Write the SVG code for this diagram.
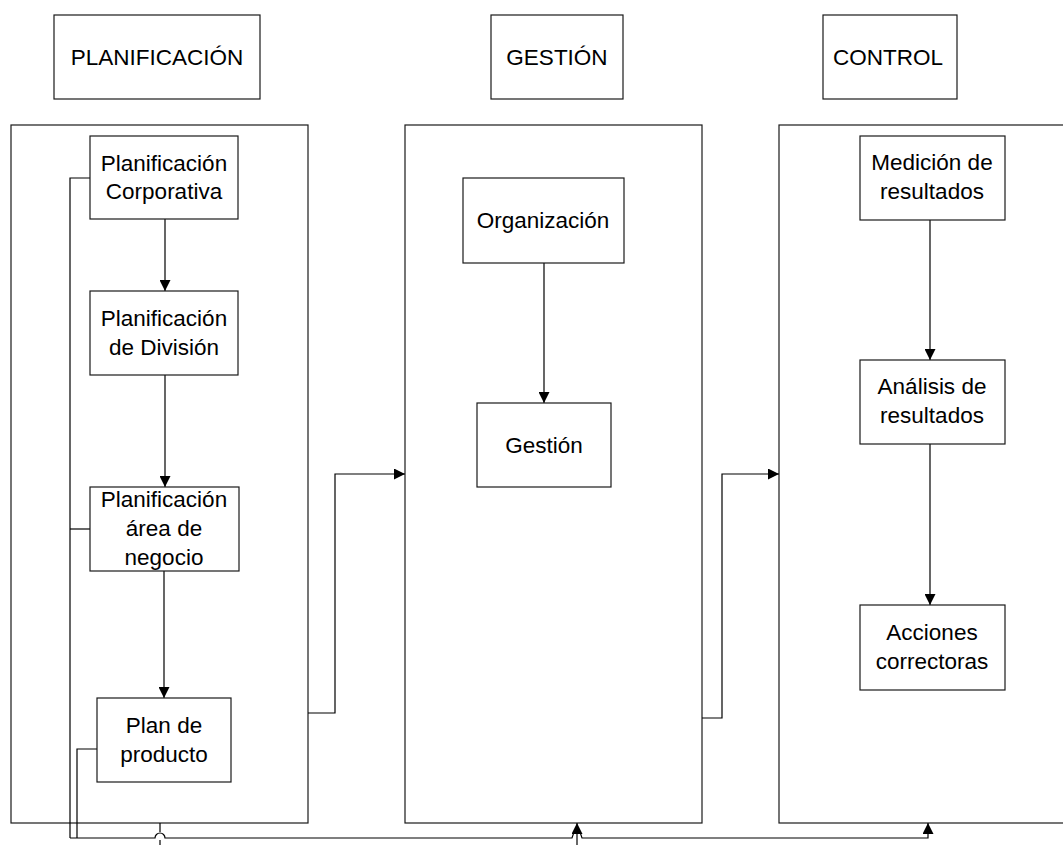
<svg xmlns="http://www.w3.org/2000/svg" width="1063" height="845" viewBox="0 0 1063 845">
  <style>
    .box { fill: #ffffff; stroke: #1a1a1a; stroke-width: 1.2; }
    .panel { fill: #ffffff; stroke: #1a1a1a; stroke-width: 1.2; }
    .lbl { font-family: "Liberation Sans", Arial, sans-serif; font-size: 22.5px; fill: #000; text-anchor: middle; }
    .wire { fill: none; stroke: #000; stroke-width: 1.2; }
  </style>
  <defs>
    <marker id="arrow" viewBox="0 0 10 10" refX="10" refY="5" markerWidth="11" markerHeight="11" markerUnits="userSpaceOnUse" orient="auto">
      <path d="M0,0 L10,5 L0,10 z" fill="#000"/>
    </marker>
  </defs>

  <rect width="1063" height="845" fill="#ffffff"/>

  <!-- column headers -->
  <g id="hdr-planificacion">
    <rect class="box" x="54" y="15" width="206" height="84"/>
    <text class="lbl" x="157" y="65">PLANIFICACIÓN</text>
  </g>
  <g id="hdr-gestion">
    <rect class="box" x="491" y="15" width="132" height="84"/>
    <text class="lbl" x="557" y="65">GESTIÓN</text>
  </g>
  <g id="hdr-control">
    <rect class="box" x="823" y="15" width="134" height="84"/>
    <text class="lbl" x="888" y="65">CONTROL</text>
  </g>

  <!-- column panels -->
  <g id="panel-planificacion"><rect class="panel" x="11" y="125" width="297" height="698"/></g>
  <g id="panel-gestion"><rect class="panel" x="405" y="125" width="297" height="698"/></g>
  <g id="panel-control"><rect class="panel" x="779" y="125" width="300" height="698"/></g>

  <!-- connectors -->
  <g id="connectors">
    <!-- planning chain -->
    <line class="wire" x1="165" y1="219" x2="165" y2="291" marker-end="url(#arrow)"/>
    <line class="wire" x1="165" y1="375" x2="165" y2="487" marker-end="url(#arrow)"/>
    <line class="wire" x1="164" y1="571" x2="164" y2="698" marker-end="url(#arrow)"/>
    <!-- management chain -->
    <line class="wire" x1="544" y1="263" x2="544" y2="403" marker-end="url(#arrow)"/>
    <!-- control chain -->
    <line class="wire" x1="930" y1="220" x2="930" y2="360" marker-end="url(#arrow)"/>
    <line class="wire" x1="930" y1="444" x2="930" y2="605" marker-end="url(#arrow)"/>
    <!-- panel to panel -->
    <path class="wire" d="M308,713 H335 V474 H405" marker-end="url(#arrow)"/>
    <path class="wire" d="M702,718 H722 V474 H779" marker-end="url(#arrow)"/>
    <!-- feedback bus -->
    <path class="wire" d="M90,178 H70 V838"/>
    <line class="wire" x1="70" y1="529" x2="90" y2="529"/>
    <path class="wire" d="M97,749 H77 V838"/>
    <path class="wire" d="M70,838 H155 A5,5 0 0 1 165,838 H572 L574,832 H580 L582,838 H928 V823" marker-end="url(#arrow)"/>
    <line class="wire" x1="160" y1="823" x2="160" y2="832"/>
    <line class="wire" x1="160" y1="840" x2="160" y2="845"/>
    <line class="wire" x1="577" y1="845" x2="577" y2="823" marker-end="url(#arrow)"/>
  </g>

  <!-- planning nodes -->
  <g id="n-corporativa">
    <rect class="box" x="90" y="136" width="148" height="83"/>
    <text class="lbl" x="164" y="171">Planificación</text>
    <text class="lbl" x="164" y="199">Corporativa</text>
  </g>
  <g id="n-division">
    <rect class="box" x="90" y="291" width="148" height="84"/>
    <text class="lbl" x="164" y="326">Planificación</text>
    <text class="lbl" x="164" y="355">de División</text>
  </g>
  <g id="n-area">
    <rect class="box" x="90" y="487" width="149" height="84"/>
    <text class="lbl" x="164" y="507">Planificación</text>
    <text class="lbl" x="164" y="536">área de</text>
    <text class="lbl" x="164" y="565">negocio</text>
  </g>
  <g id="n-producto">
    <rect class="box" x="97" y="698" width="134" height="84"/>
    <text class="lbl" x="164" y="733">Plan de</text>
    <text class="lbl" x="164" y="762">producto</text>
  </g>

  <!-- management nodes -->
  <g id="n-organizacion">
    <rect class="box" x="463" y="178" width="161" height="85"/>
    <text class="lbl" x="543" y="228">Organización</text>
  </g>
  <g id="n-gestion">
    <rect class="box" x="477" y="403" width="134" height="84"/>
    <text class="lbl" x="544" y="453">Gestión</text>
  </g>

  <!-- control nodes -->
  <g id="n-medicion">
    <rect class="box" x="860" y="136" width="145" height="84"/>
    <text class="lbl" x="932" y="170">Medición de</text>
    <text class="lbl" x="932" y="199">resultados</text>
  </g>
  <g id="n-analisis">
    <rect class="box" x="860" y="360" width="145" height="84"/>
    <text class="lbl" x="932" y="394">Análisis de</text>
    <text class="lbl" x="932" y="423">resultados</text>
  </g>
  <g id="n-acciones">
    <rect class="box" x="860" y="605" width="145" height="85"/>
    <text class="lbl" x="932" y="640">Acciones</text>
    <text class="lbl" x="932" y="669">correctoras</text>
  </g>
</svg>
